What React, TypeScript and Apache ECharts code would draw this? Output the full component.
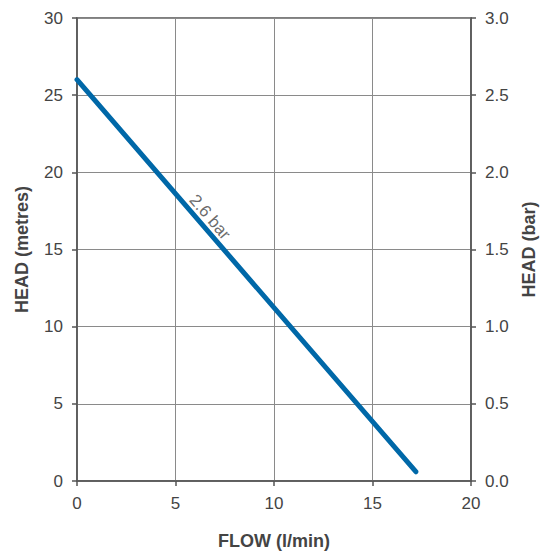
import React, { useEffect, useRef } from "react";
import * as echarts from "echarts";

const flow = [0, 17.2];
const headMetres = [26, 0.6];
const labelPoint = [6.75, 17.1];
const labelText = "2.6 bar";
const xTitle = "FLOW (l/min)";
const yLeftTitle = "HEAD (metres)";
const yRightTitle = "HEAD (bar)";

export default function App() {
  const ref = useRef<HTMLDivElement>(null);
  useEffect(() => {
    document.body.style.margin = "0";
    const chart = echarts.init(ref.current!, null, { renderer: "svg" });
    const font = "Liberation Sans, Arial, sans-serif";
    const axisLine = { show: true, lineStyle: { color: "#555", width: 1.5 } };
    const axisTick = { show: true, length: 5, lineStyle: { color: "#555", width: 1.5 } };
    const axisLabel = { color: "#444", fontSize: 17, fontFamily: font };
    const nameStyle = { color: "#444", fontSize: 18, fontWeight: "bold" as const, fontFamily: font };
    chart.setOption({
      animation: false,
      grid: { left: 77, right: 76, top: 18, bottom: 70, show: true, borderColor: "#555", borderWidth: 1.5 },
      xAxis: {
        type: "value", min: 0, max: 20, interval: 5,
        name: xTitle, nameLocation: "middle", nameGap: 51, nameTextStyle: nameStyle,
        axisLine, axisTick, axisLabel: { ...axisLabel, margin: 14 },
        splitLine: { show: true, lineStyle: { color: "#8a8a8a", width: 1 } },
      },
      yAxis: [
        {
          type: "value", min: 0, max: 30, interval: 5, position: "left",
          name: yLeftTitle, nameLocation: "middle", nameGap: 46, nameTextStyle: nameStyle,
          axisLine, axisTick, axisLabel: { ...axisLabel, margin: 14 },
          splitLine: { show: true, lineStyle: { color: "#8a8a8a", width: 1 } },
        },
        {
          type: "value", min: 0, max: 3, interval: 0.5, position: "right",
          name: yRightTitle, nameLocation: "middle", nameGap: 49, nameTextStyle: nameStyle,
          axisLine, axisTick,
          axisLabel: { ...axisLabel, margin: 14, formatter: (v: number) => v.toFixed(1) },
          splitLine: { show: false },
        },
      ],
      series: [
        {
          type: "line",
          data: flow.map((f, i) => [f, headMetres[i]]),
          showSymbol: false,
          lineStyle: { color: "#0068a8", width: 5, cap: "round" },
        },
        {
          type: "scatter",
          data: [labelPoint],
          symbolSize: 0,
          label: {
            show: true, position: "inside", formatter: labelText, rotate: -49.4,
            color: "#444", fontSize: 17, fontFamily: font,
          },
        },
      ],
    });
    return () => chart.dispose();
  }, []);
  return <div ref={ref} style={{ width: 547, height: 555 }} />;
}
